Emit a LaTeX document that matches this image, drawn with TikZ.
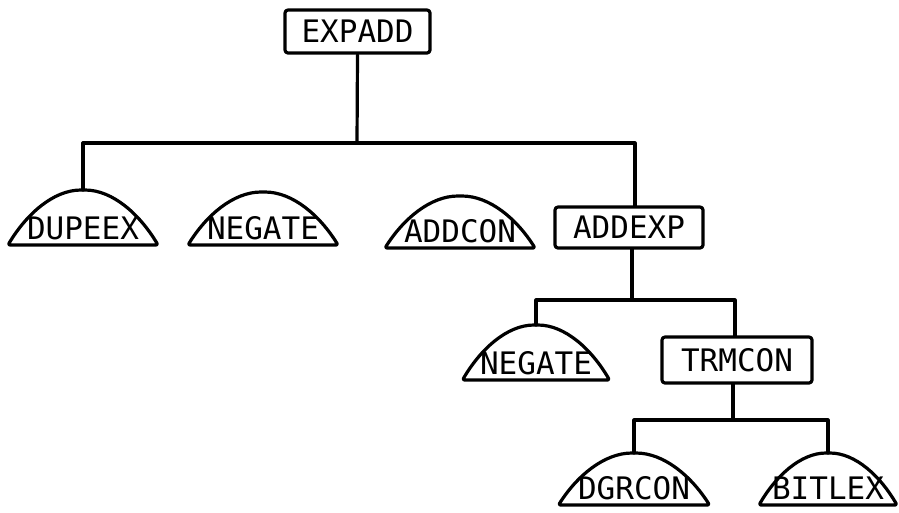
\documentclass[tikz,border=0pt]{standalone}
\usepackage{fontspec}
\newfontfamily\plotfont{DejaVu Sans Mono}
\tikzset{
  x=1pt, y=1pt,
  ink/.style={line width=3.2pt, line join=round, line cap=round},
  wire/.style={ink},
  modbox/.style={ink, draw, rounded corners=3pt, inner sep=0pt,
                 font=\plotfont\fontsize{31}{31}\selectfont},
  domelabel/.style={inner sep=0pt, anchor=base,
                    font=\plotfont\fontsize{31}{31}\selectfont},
}
% \utildome{name}{centre x}{base y}{width}{height}{label}
\newcommand\utildome[6]{%
  \draw[ink, rounded corners=2pt] (#2-#4/2,#3)
     .. controls +(0.12*#4,0.55*#5) and +(-0.2*#4,0) .. (#2,#3+#5)
     .. controls +(0.2*#4,0) and +(-0.12*#4,0.55*#5) .. (#2+#4/2,#3)
     -- cycle;
  \coordinate (#1-top) at (#2,#3+#5);
  \node[domelabel] (#1) at (#2,#3+6) {#6};
}
\begin{document}
\begin{tikzpicture}
\useasboundingbox (0,0) rectangle (899,-512);

% boxed modules
\node[modbox, minimum width=145pt, minimum height=43pt] (expadd) at (357.5,-31.5) {EXPADD};
\node[modbox, minimum width=148pt, minimum height=41pt] (addexp) at (629,-227.5) {ADDEXP};
\node[modbox, minimum width=150pt, minimum height=46pt] (trmcon) at (737,-360) {TRMCON};

% dome-shaped modules
\utildome{dupeex}{83}{-245}{150}{55}{DUPEEX}
\utildome{negone}{263}{-245}{150}{53}{NEGATE}
\utildome{addcon}{460}{-248}{150}{52}{ADDCON}
\utildome{negtwo}{536}{-380}{147}{55}{NEGATE}
\utildome{dgrcon}{634}{-505}{151}{52}{DGRCON}
\utildome{bitlex}{828}{-505}{138}{52}{BITLEX}

% connectors
\coordinate (busA) at (357,-143);
\coordinate (busB) at (632,-300);
\coordinate (busC) at (733,-420);

\draw[wire] (expadd.south) -- (busA);
\draw[wire] (dupeex-top) |- (busA) -| ([xshift=6pt]addexp.north);
\draw[wire] ([xshift=3pt]addexp.south) -- (busB);
\draw[wire] (negtwo-top) |- (busB) -| ([xshift=-2pt]trmcon.north);
\draw[wire] ([xshift=-4pt]trmcon.south) -- (busC);
\draw[wire] (dgrcon-top) |- (busC) -| (bitlex-top);
\end{tikzpicture}
\end{document}
